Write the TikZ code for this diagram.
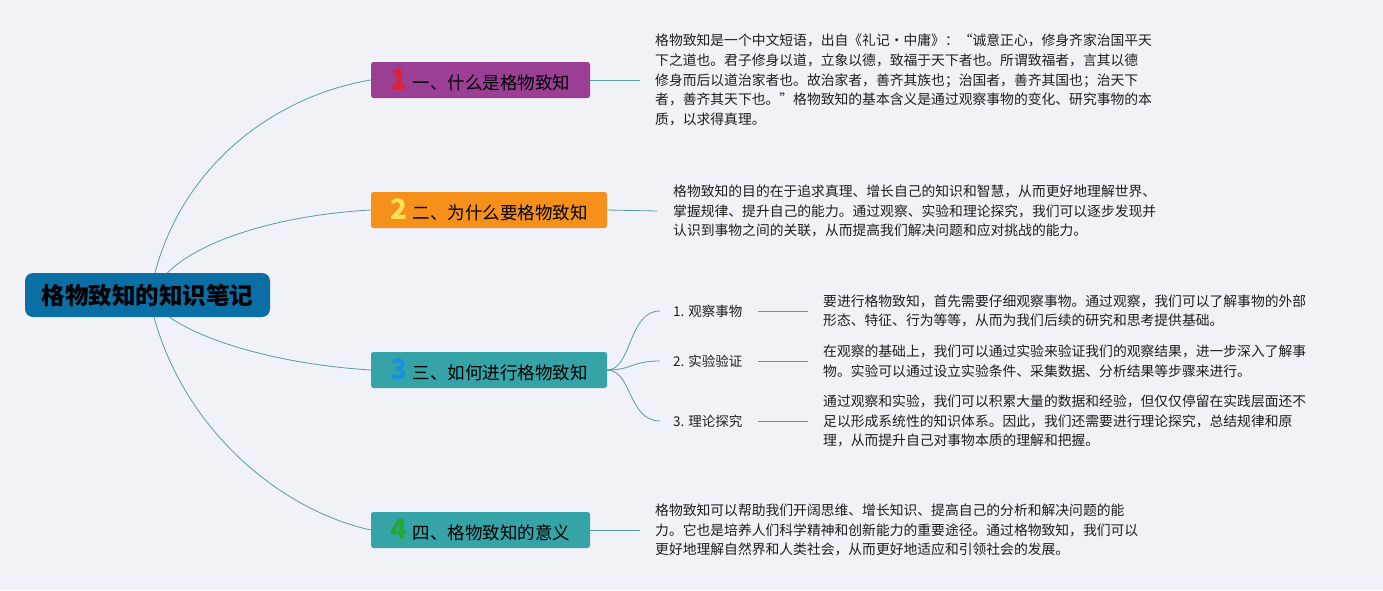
\documentclass[tikz,border=0pt]{standalone}
\usepackage{fontspec}
\setmainfont{Noto Sans CJK SC}
\usetikzlibrary{calc}
\definecolor{bg}{HTML}{F1F1F8}
\definecolor{conn}{HTML}{5A9C9A}
\definecolor{rootc}{HTML}{0B6FA6}
\definecolor{purp}{HTML}{9B3F95}
\definecolor{oran}{HTML}{F5901A}
\definecolor{teal3}{HTML}{36A4A6}
\definecolor{dred}{HTML}{E3202E}
\definecolor{dyel}{HTML}{F7E25A}
\definecolor{dblu}{HTML}{1A8FE0}
\definecolor{dgrn}{HTML}{22AA33}
\definecolor{txt}{HTML}{1E1E1E}
\newcommand{\bignum}[2]{{\fontsize{28}{28}\selectfont\bfseries\textcolor{#1}{#2}}}
\tikzset{
  rootbox/.style={fill=rootc, rounded corners=8pt, minimum width=245pt, minimum height=44pt, inner sep=0pt, text=black, font=\fontsize{23.5}{23.5}\selectfont\bfseries},
  branchbox/.style={rounded corners=2.5pt, minimum height=36pt, inner sep=0pt, text=black, font=\fontsize{17.5}{17.5}\selectfont},
  para/.style={anchor=west, align=left, inner sep=0pt, text=txt, font=\fontsize{13.8}{19.8}\selectfont},
  sublabel/.style={anchor=west, inner sep=0pt, text=txt, font=\fontsize{13.5}{13.5}\selectfont},
  conline/.style={draw=conn, line width=0.8pt}
}
\begin{document}
\begin{tikzpicture}[x=1pt,y=-1pt]
\fill[bg] (0,0) rectangle (1383,590);
\useasboundingbox (0,0) rectangle (1383,590);

\node[rootbox] (root) at (147.5,295) {格物致知的知识笔记};

\node[branchbox, fill=purp, minimum width=219pt] (b1) at (480.5,80) {\bignum{dred}{1}\hspace{5pt}一、什么是格物致知};
\node[branchbox, fill=oran, minimum width=236pt] (b2) at (489,210) {\bignum{dyel}{2}\hspace{5pt}二、为什么要格物致知};
\node[branchbox, fill=teal3, minimum width=236pt] (b3) at (489,370) {\bignum{dblu}{3}\hspace{5pt}三、如何进行格物致知};
\node[branchbox, fill=teal3, minimum width=219pt] (b4) at (480.5,530) {\bignum{dgrn}{4}\hspace{5pt}四、格物致知的意义};

\coordinate (r1) at ([xshift=7.5pt]root.north);
\coordinate (r2) at ([xshift=20pt]root.north);
\coordinate (r3) at ([xshift=22pt]root.south);
\coordinate (r4) at ([xshift=6.5pt]root.south);

\draw[conline] (r1) .. controls (185,160) and (280,95) .. (b1.west);
\draw[conline] (r2) .. controls (200,240) and (280,215) .. (b2.west);
\draw[conline] (r3) .. controls (210,345) and (290,365) .. (b3.west);
\draw[conline] (r4) .. controls (185,430) and (280,510) .. (b4.west);

\node[para] (p1) at (655,80) {格物致知是一个中文短语，出自《礼记·中庸》：“诚意正心，修身齐家治国平天\\
下之道也。君子修身以道，立象以德，致福于天下者也。所谓致福者，言其以德\\
修身而后以道治家者也。故治家者，善齐其族也；治国者，善齐其国也；治天下\\
者，善齐其天下也。”格物致知的基本含义是通过观察事物的变化、研究事物的本\\
质，以求得真理。};

\node[para] (p2) at (673,211) {格物致知的目的在于追求真理、增长自己的知识和智慧，从而更好地理解世界、\\
掌握规律、提升自己的能力。通过观察、实验和理论探究，我们可以逐步发现并\\
认识到事物之间的关联，从而提高我们解决问题和应对挑战的能力。};

\node[para] (p4) at (655,530) {格物致知可以帮助我们开阔思维、增长知识、提高自己的分析和解决问题的能\\
力。它也是培养人们科学精神和创新能力的重要途径。通过格物致知，我们可以\\
更好地理解自然界和人类社会，从而更好地适应和引领社会的发展。};

\node[sublabel] (s1) at (673,311) {1. 观察事物};
\node[sublabel] (s2) at (673,361) {2. 实验验证};
\node[sublabel] (s3) at (673,421) {3. 理论探究};

\node[para] (q1) at (823,311) {要进行格物致知，首先需要仔细观察事物。通过观察，我们可以了解事物的外部\\
形态、特征、行为等等，从而为我们后续的研究和思考提供基础。};
\node[para] (q2) at (823,361) {在观察的基础上，我们可以通过实验来验证我们的观察结果，进一步深入了解事\\
物。实验可以通过设立实验条件、采集数据、分析结果等步骤来进行。};
\node[para] (q3) at (823,421) {通过观察和实验，我们可以积累大量的数据和经验，但仅仅停留在实践层面还不\\
足以形成系统性的知识体系。因此，我们还需要进行理论探究，总结规律和原\\
理，从而提升自己对事物本质的理解和把握。};

\draw[conline] (b1.east) -- ([xshift=-15pt]p1.west);
\draw[conline] (b2.east) -- ([xshift=-16pt]p2.west);
\draw[conline] (b4.east) -- ([xshift=-15pt]p4.west);

\coordinate (t1) at ([xshift=-13pt]s1.west);
\coordinate (t2) at ([xshift=-13pt]s2.west);
\coordinate (t3) at ([xshift=-13pt]s3.west);
\draw[conline] (b3.east) .. controls (632,370) and (628,311) .. (t1);
\draw[conline] (b3.east) .. controls (632,370) and (632,361) .. (t2);
\draw[conline] (b3.east) .. controls (632,370) and (628,421) .. (t3);

\draw[conline] ([xshift=15pt]s1.east) -- ([xshift=-15pt]q1.west);
\draw[conline] ([xshift=15pt]s2.east) -- ([xshift=-15pt]q2.west);
\draw[conline] ([xshift=15pt]s3.east) -- ([xshift=-15pt]q3.west);
\end{tikzpicture}
\end{document}
